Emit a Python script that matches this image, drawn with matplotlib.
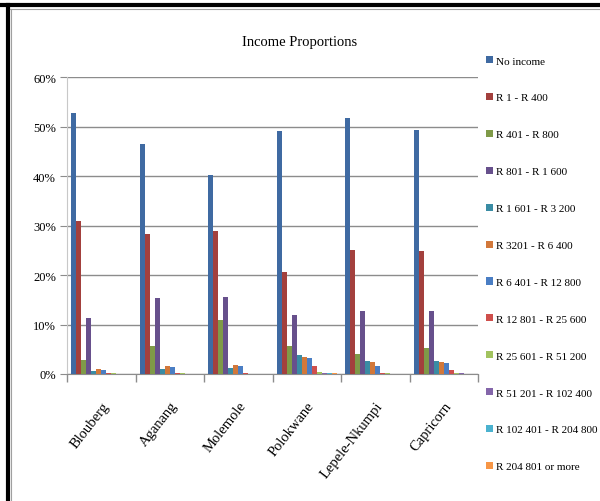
import numpy as np
import matplotlib
matplotlib.use("Agg")
import matplotlib.pyplot as plt
from matplotlib.lines import Line2D
from matplotlib.patches import Patch

plt.rcParams['font.family'] = ['Liberation Serif', 'DejaVu Serif']

# Data (percent)
regions = ["Blouberg", "Aganang", "Molemole", "Polokwane", "Lepele-Nkumpi", "Capricorn"]
bands = ["No income", "R 1 - R 400", "R 401 - R 800", "R 801 - R 1 600",
         "R 1 601 - R 3 200", "R 3201 - R 6 400", "R 6 401 - R 12 800",
         "R 12 801 - R 25 600", "R 25 601 - R 51 200", "R 51 201 - R 102 400",
         "R 102 401 - R 204 800", "R 204 801 or more"]

no_income = [52.7, 46.5, 40.2, 49.1, 51.8, 49.3]
r1_400 = [30.9, 28.4, 29.0, 20.7, 25.1, 24.8]
r401_800 = [2.9, 5.7, 10.9, 5.7, 4.1, 5.3]
r801_1600 = [11.3, 15.4, 15.6, 12.0, 12.7, 12.7]
r1601_3200 = [0.7, 0.95, 1.2, 3.9, 2.6, 2.6]
r3201_6400 = [0.95, 1.7, 1.9, 3.5, 2.4, 2.4]
r6401_12800 = [0.75, 1.5, 1.7, 3.3, 1.7, 2.2]
r12801_25600 = [0.3, 0.3, 0.1, 1.55, 0.3, 0.8]
r25601_51200 = [0.1, 0.1, 0.05, 0.5, 0.1, 0.3]
r51201_102400 = [0.05, 0.05, 0.03, 0.25, 0.05, 0.1]
r102401_204800 = [0.03, 0.03, 0.02, 0.2, 0.03, 0.05]
r204801_plus = [0.02, 0.02, 0.01, 0.1, 0.02, 0.03]

series = [no_income, r1_400, r401_800, r801_1600, r1601_3200, r3201_6400,
          r6401_12800, r12801_25600, r25601_51200, r51201_102400,
          r102401_204800, r204801_plus]

colors = ["#3f6aa2", "#a3403d", "#7f9a48", "#67508c", "#3a8ca4", "#d2783a",
          "#4a7ec4", "#cf4f4c", "#a2c35f", "#8466aa", "#4bb2cf", "#f79646"]

fig = plt.figure(figsize=(6.0, 5.02), dpi=100)
ax = fig.add_axes([0.1117, 0.253, 0.6853, 0.591])

x = np.arange(len(regions))
w = 0.875 / len(series)
for j, vals in enumerate(series):
    ax.bar(x - 0.4375 + (j + 0.5) * w, np.array(vals) / 100.0, width=w,
           color=colors[j], linewidth=0, zorder=3)

ax.set_xlim(-0.5, len(regions) - 0.5)
ax.set_ylim(0, 0.6)
ax.set_yticks(np.arange(0, 0.61, 0.1))
ax.set_yticklabels([f"{int(round(v*100))}%" for v in np.arange(0, 0.61, 0.1)],
                   fontsize=9)
ax.yaxis.grid(True, color="#8c8c8c", linewidth=1.0, zorder=0)
ax.tick_params(axis="y", length=5, color="#8c8c8c", pad=3)

ax.set_xticks(x)
ax.set_xticklabels(regions, rotation=52, ha="right", va="top",
                   rotation_mode="anchor", fontsize=10.5)
ax.tick_params(axis="x", length=0, pad=18)
ax.set_xticks(np.arange(-0.5, len(regions)), minor=True)
ax.tick_params(axis="x", which="minor", length=6, color="#8c8c8c", width=1)

for s in ["top", "right"]:
    ax.spines[s].set_visible(False)
ax.spines["left"].set_color("#c8c8c8")
ax.spines["bottom"].set_color("#8c8c8c")

fig.text(0.5, 0.915, "Income Proportions", ha="center", va="center", fontsize=10.5)

handles = [Patch(facecolor=c, edgecolor="none") for c in colors]
fig.legend(handles, bands, loc="upper left", bbox_to_anchor=(0.803, 0.895),
           frameon=False, fontsize=8.0, handlelength=0.6, handleheight=0.6,
           handletextpad=0.3, labelspacing=2.47, borderaxespad=0)

# outer frame of the pasted chart
fig.add_artist(Line2D([0.0, 1.0], [0.988, 0.988], color="black", linewidth=3.0))
fig.add_artist(Line2D([0.0133, 0.0133], [0.0, 0.988], color="black", linewidth=3.0))
fig.add_artist(Line2D([0.017, 1.0], [0.981, 0.981], color="#a0a0a0", linewidth=0.8))
fig.add_artist(Line2D([0.018, 0.018], [0.0, 0.981], color="#a0a0a0", linewidth=0.8))

fig.savefig("out.png", dpi=100)
